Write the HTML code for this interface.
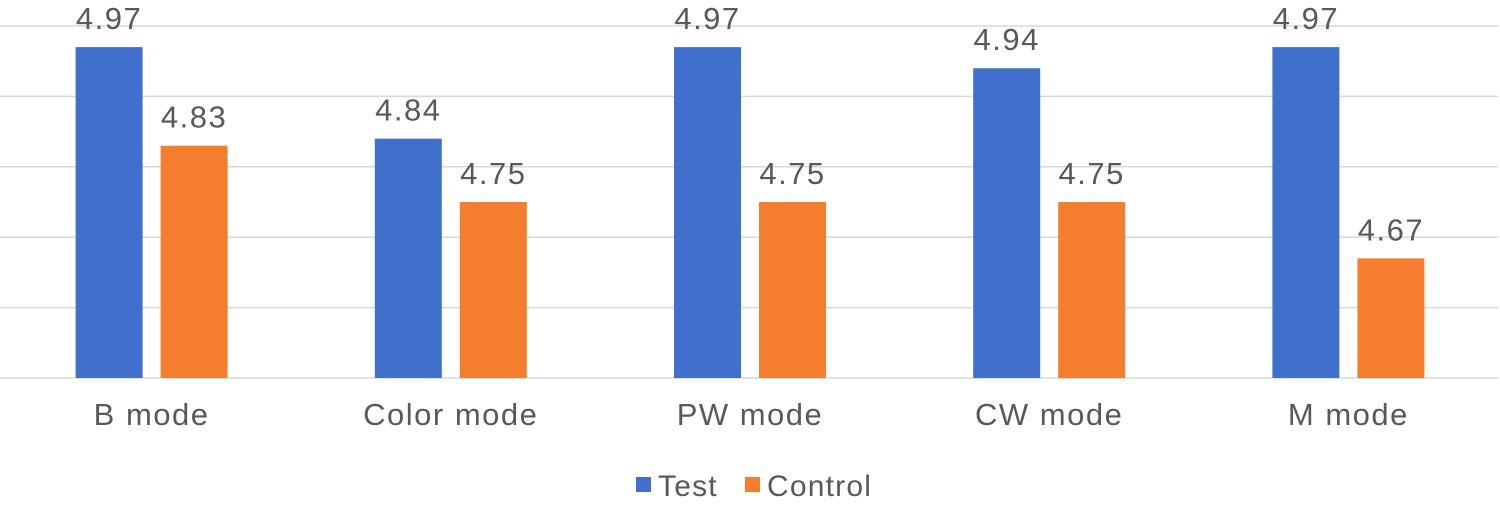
<!DOCTYPE html>
<html><head><meta charset="utf-8"><style>
html,body{margin:0;padding:0;background:#fff}
svg text{font-family:"Liberation Sans","Noto Sans CJK SC",sans-serif;fill:#595959}
</style></head><body>
<svg id="chart" width="1500" height="500" viewBox="0 0 1500 500" xmlns="http://www.w3.org/2000/svg">
<g id="grid"></g>
<g id="bars"></g>
<g id="labels"></g>
<g id="xcats"></g>
<g>
<rect x="636" y="477" width="15" height="15" fill="#4170CC"/>
<text x="658" y="496" font-size="30" letter-spacing="1.2">Test</text>
<rect x="745" y="477" width="15" height="15" fill="#F57E2E"/>
<text x="767" y="496" font-size="30" letter-spacing="1.2">Control</text>
</g>
</svg>
<script>
const categories=["B mode","Color mode","PW mode","CW mode","M mode"];
const testValues=[4.97,4.84,4.97,4.94,4.97];
const controlValues=[4.83,4.75,4.75,4.75,4.67];
const yTicks=[4.5,4.6,4.7,4.8,4.9,5.0];
const NS="http://www.w3.org/2000/svg";
const y=v=>378-(v-4.5)*704;
const x0=2,cw=299.2,bw=67,gap=18;
const cx=i=>x0+cw*i+cw/2;
function mk(t,a,p){const e=document.createElementNS(NS,t);for(const k in a)e.setAttribute(k,a[k]);p.appendChild(e);return e;}
const grid=document.getElementById('grid'),bars=document.getElementById('bars'),labels=document.getElementById('labels'),xc=document.getElementById('xcats');
yTicks.forEach(v=>{
 const l=mk('line',{x1:0,x2:1498,y1:y(v),y2:y(v),stroke:'#d9d9d9','stroke-width':1.5},grid);
 
 
});
categories.forEach((c,i)=>{
 const c0=cx(i);
 const tv=testValues[i],cv=controlValues[i];
 const tx=c0-gap/2-bw, cxp=c0+gap/2;
 const b1=mk('rect',{x:tx,y:y(tv),width:bw,height:378-y(tv),fill:'#4170CC'},bars);
 
 
 const b2=mk('rect',{x:cxp,y:y(cv),width:bw,height:378-y(cv),fill:'#F57E2E'},bars);
 
 
 const t1=mk('text',{x:tx+bw/2,y:y(tv)-18,'text-anchor':'middle','font-size':31,'letter-spacing':1.5},labels);
 t1.textContent=tv.toFixed(2);
 
 
 const t2=mk('text',{x:cxp+bw/2,y:y(cv)-18,'text-anchor':'middle','font-size':31,'letter-spacing':1.5},labels);
 t2.textContent=cv.toFixed(2);
 
 
 const ct=mk('text',{x:c0,y:425,'text-anchor':'middle','font-size':31,'letter-spacing':1.5},xc);
 ct.textContent=c;
 
 
});
</script>
</body></html>
